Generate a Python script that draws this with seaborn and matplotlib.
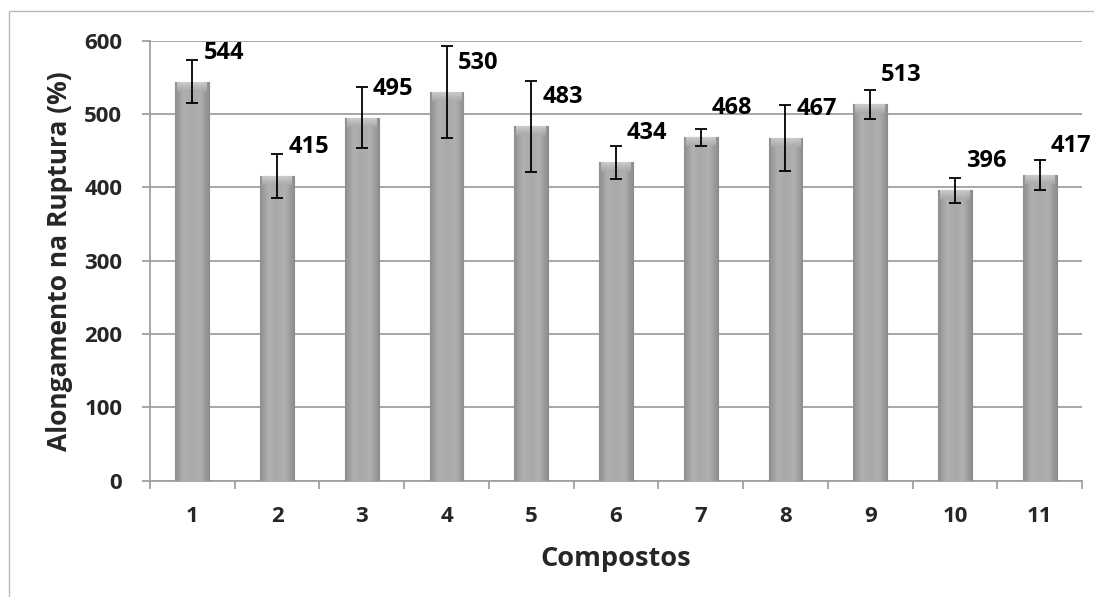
import numpy as np
import pandas as pd
import matplotlib
matplotlib.use("Agg")
import matplotlib.pyplot as plt
from matplotlib.patches import Rectangle
from matplotlib.colors import LinearSegmentedColormap
import seaborn as sns

# ---- data ----
categories = ["1", "2", "3", "4", "5", "6", "7", "8", "9", "10", "11"]
values = [544, 415, 495, 530, 483, 434, 468, 467, 513, 396, 417]
errors = [29, 30, 42, 63, 62, 23, 11, 45, 20, 17, 20]
y_ticks = [0, 100, 200, 300, 400, 500, 600]
x_title = "Compostos"
y_title = "Alongamento na Ruptura (%)"

sns.set_theme(style="white")
plt.rcParams["font.family"] = ["Open Sans", "DejaVu Sans"]
plt.rcParams["font.weight"] = "bold"

fig = plt.figure(figsize=(10.94, 5.97), dpi=100)
ax = fig.add_axes([150 / 1094, (597 - 480.7) / 597, (1082 - 150) / 1094, (480.7 - 40.7) / 597])

df = pd.DataFrame({"cat": categories, "val": values})
sns.barplot(data=df, x="cat", y="val", ax=ax, color="#a6a6a6", width=0.4,
            errorbar=None, edgecolor="#8a8a8a", linewidth=0.8, zorder=3, saturation=1)

# gradient shading inside each bar
cmap = LinearSegmentedColormap.from_list("bevel", ["#8e8e8e", "#b0b0b0", "#a9a9a9", "#b0b0b0", "#8e8e8e"])
grad = np.linspace(0, 1, 256).reshape(1, -1)
vgrad = np.linspace(0, 1, 64).reshape(-1, 1)
top_cmap = LinearSegmentedColormap.from_list("top", ["#d2d2d2", "#a9a9a9"])
px_per_unit = (480.7 - 40.7) / 600
for p in ax.patches:
    x0, y0 = p.get_x(), p.get_y()
    w, h = p.get_width(), p.get_height()
    im = ax.imshow(grad, cmap=cmap, aspect="auto", extent=[x0, x0 + w, y0, y0 + h],
                   zorder=3.5, interpolation="bicubic")
    im.set_clip_path(p)
    band = 9 / px_per_unit
    im2 = ax.imshow(vgrad, cmap=top_cmap, aspect="auto",
                    extent=[x0 + w * 0.06, x0 + w * 0.94, y0 + h - band, y0 + h],
                    zorder=3.6, interpolation="bicubic", alpha=0.85)
    im2.set_clip_path(p)

xpos = np.arange(len(categories))
ax.errorbar(xpos, values, yerr=errors, fmt="none", ecolor="black", elinewidth=1.3,
            capsize=4, capthick=1.3, zorder=5)

for x, v in zip(xpos, values):
    ax.annotate(str(v), xy=(x, v), xytext=(8, 21), textcoords="offset points",
                ha="left", va="center", fontsize=17, fontweight="bold", color="black", zorder=6)

ax.set_xlim(-0.5, len(categories) - 0.5)
ax.set_ylim(0, 600)
ax.set_yticks(y_ticks)
ax.set_yticklabels([str(t) for t in y_ticks])
ax.yaxis.grid(True, color="#a0a0a0", linewidth=1.3, zorder=0)
ax.xaxis.grid(False)
ax.set_axisbelow(True)

for s in ["top", "right"]:
    ax.spines[s].set_visible(False)
for s in ["left", "bottom"]:
    ax.spines[s].set_color("#a0a0a0")
    ax.spines[s].set_linewidth(1.3)

ax.tick_params(axis="y", which="major", length=6, width=1.3, color="#a0a0a0", pad=14,
               labelsize=16, left=True, direction="out")
ax.tick_params(axis="x", which="major", length=0, pad=18, labelsize=16)
ax.set_xticks(np.arange(-0.5, len(categories), 1.0), minor=True)
ax.tick_params(axis="x", which="minor", length=6, width=1.3, color="#a0a0a0", bottom=True,
               direction="out")
for lab in ax.get_xticklabels() + ax.get_yticklabels():
    lab.set_fontweight("bold")

ax.set_xlabel(x_title, fontsize=19.5, fontweight="bold", labelpad=14)
ax.set_ylabel(y_title, fontsize=19, fontweight="bold", labelpad=8)

# outer chart frame
fig.patches.append(Rectangle((9 / 1094, -0.1), 1.2, (597 - 11) / 597 + 0.1,
                             transform=fig.transFigure, facecolor="none",
                             edgecolor="#b8b8b8", linewidth=1.0, zorder=0))

fig.savefig("out.png", dpi=100)
